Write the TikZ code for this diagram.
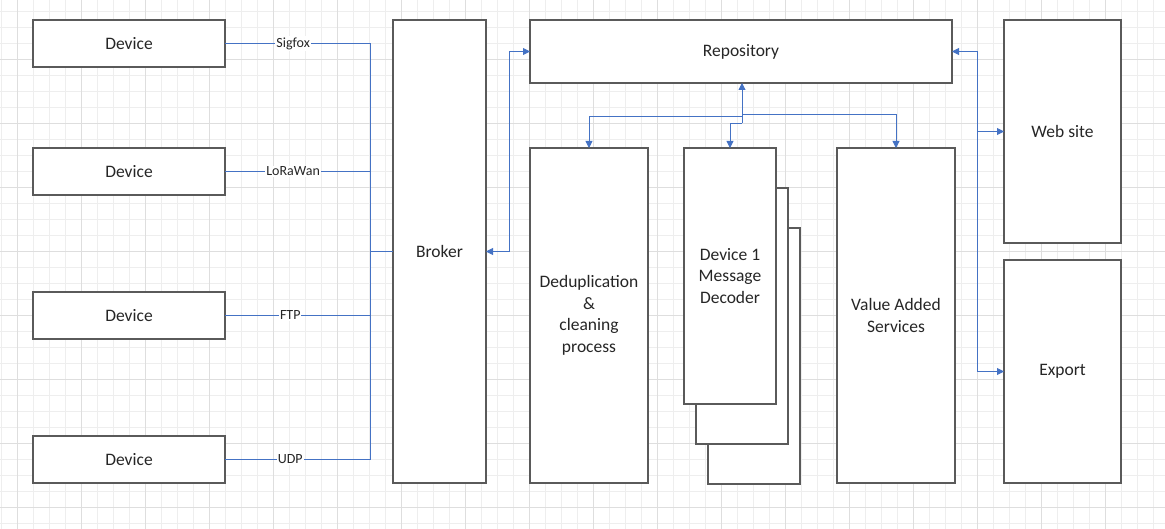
\documentclass[tikz,border=0pt]{standalone}
\usepackage{fontspec}
\setmainfont{Carlito}
\usetikzlibrary{arrows.meta}
\definecolor{boxline}{HTML}{5A5A5A}
\definecolor{linkblue}{HTML}{4472C4}
\definecolor{gridminor}{HTML}{EEEEEE}
\definecolor{gridmajor}{HTML}{DEDEDE}
\definecolor{txt}{HTML}{262626}
\begin{document}
\begin{tikzpicture}[x=1pt,y=-1pt,
  box/.style={draw=boxline,line width=1.1pt,fill=white,inner sep=0pt,outer sep=0pt,
    anchor=north west,align=center,text=txt,font=\fontsize{17.5}{21.5}\selectfont},
  link/.style={draw=linkblue,line width=0.9pt},
  tip/.style={-{Triangle[length=7pt,width=7pt]}},
  lbl/.style={fill=white,inner sep=1pt,text=txt,font=\fontsize{14}{16}\selectfont},
  minorgrid/.style={draw=gridminor,line width=0.7pt},
  majorgrid/.style={draw=gridmajor,line width=0.7pt}]
\useasboundingbox (0,0) rectangle (1165,529);
\fill[white] (0,0) rectangle (1165,529);
% grid
\foreach \i in {0,...,72} {\pgfmathsetmacro\xx{1.3+16*\i}\draw[minorgrid] (\xx,0) -- (\xx,529);}
\foreach \i in {0,...,32} {\pgfmathsetmacro\yy{11.3+16*\i}\draw[minorgrid] (0,\yy) -- (1165,\yy);}
\foreach \i in {0,...,18} {\pgfmathsetmacro\xx{17.3+64*\i}\draw[majorgrid] (\xx,0) -- (\xx,529);}
\foreach \i in {-1,...,7} {\pgfmathsetmacro\yy{59.3+64*\i}\draw[majorgrid] (0,\yy) -- (1165,\yy);}
% boxes
\node[box,minimum width=192pt,minimum height=47pt] (d1) at (33,20) {Device};
\node[box,minimum width=192pt,minimum height=47pt] (d2) at (33,148) {Device};
\node[box,minimum width=192pt,minimum height=47pt] (d3) at (33,292) {Device};
\node[box,minimum width=192pt,minimum height=47pt] (d4) at (33,436) {Device};
\node[box,minimum width=93pt,minimum height=463pt] (broker) at (393,20) {Broker};
\node[box,minimum width=422pt,minimum height=63pt] (repo) at (530,20) {Repository};
\node[box,minimum width=118pt,minimum height=335pt] (dedup) at (530,148) {Deduplication\\\&\\cleaning\\process};
\node[box,minimum width=92pt,minimum height=256pt] (dec3) at (708,228) {};
\node[box,minimum width=92pt,minimum height=256pt] (dec2) at (696,188) {};
\node[box,minimum width=92pt,minimum height=256pt] (dec1) at (684,148) {Device 1\\Message\\Decoder};
\node[box,minimum width=118pt,minimum height=335pt] (vas) at (837,148) {Value Added\\Services};
\node[box,minimum width=117pt,minimum height=223pt] (web) at (1004,20) {Web site};
\node[box,minimum width=117pt,minimum height=223pt] (export) at (1004,260) {Export};
% device bus
\coordinate (bus) at (370,251.5);
\draw[link] (d1.east) -- node[lbl,pos=0.47]{Sigfox} (d1.east -| bus);
\draw[link] (d2.east) -- node[lbl,pos=0.47]{LoRaWan} (d2.east -| bus);
\draw[link] (d3.east) -- node[lbl,pos=0.45]{FTP} (d3.east -| bus);
\draw[link] (d4.east) -- node[lbl,pos=0.45]{UDP} (d4.east -| bus);
\draw[link] (d1.east -| bus) -- (d4.east -| bus);
\draw[link] (bus) -- (broker.west);
% broker <-> repository
\coordinate (bj) at (509,0);
\draw[link,{Triangle[length=7pt,width=7pt]}-{Triangle[length=7pt,width=7pt]}] (broker.east) -- (broker.east -| bj) |- (repo.west);
% repository <-> outputs
\coordinate (rbus) at (977,0);
\draw[link,{Triangle[length=7pt,width=7pt]}-{Triangle[length=7pt,width=7pt]}] (repo.east) -- (repo.east -| rbus) |- (export.west);
\draw[link,tip] (web.west -| rbus) -- (web.west);
% repository <-> processing
\coordinate (hub) at (742,123);
\coordinate (hubL) at (742,116.7);
\coordinate (hubR) at (742,114.3);
\draw[link,tip] (hub) -- (hub |- repo.south);
\draw[link,tip] (hubL) -| (dedup.north);
\draw[link,tip] (hub) -| (dec1.north);
\draw[link,tip] (hubR) -| (vas.north);
\end{tikzpicture}
\end{document}
